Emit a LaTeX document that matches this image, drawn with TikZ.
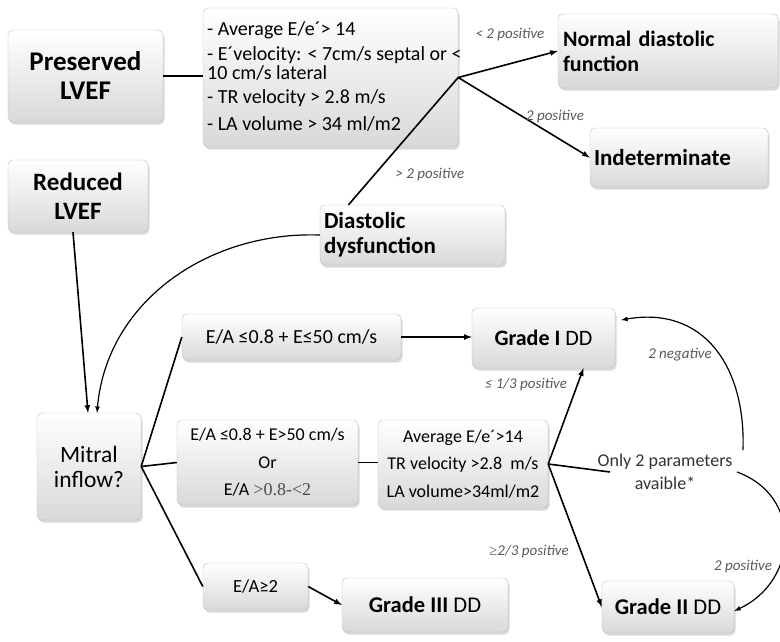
\documentclass[tikz,border=0pt]{standalone}
\usepackage{fontspec}
\setmainfont{Carlito}
\newfontfamily\tnr{Liberation Serif}
\usepackage{tikz}
\usetikzlibrary{arrows}
\usetikzlibrary{shadows}
\tikzset{box/.style={draw=gray!50, rounded corners=5pt, top color=white, bottom color=gray!30, drop shadow={opacity=0.3, shadow xshift=1.5pt, shadow yshift=-2.5pt}, inner sep=3pt}}
\tikzset{t/.style={font=\fontsize{23}{26}\selectfont\bfseries}}
\tikzset{l/.style={font=\fontsize{15}{17}\selectfont\itshape, text=black!65}}
\tikzset{flow/.style={line width=1.6pt}}
\tikzset{arr/.style={flow, -latex}}
\tikzset{curv/.style={line width=1.2pt, -latex}}

\begin{document}
\begin{tikzpicture}[x=1pt,y=-1pt]
  \useasboundingbox (0,0) rectangle (780,641);
  \node[box, t, font=\fontsize{27}{29}\selectfont\bfseries, minimum width=155pt, minimum height=92pt, align=center] (pres) at (85.5,76) {Preserved\\LVEF};
  \node[box, minimum width=255pt, minimum height=139pt] (crit) at (330.5,77.5) {};
  \node[anchor=north west, inner sep=0pt, align=left, font=\fontsize{20}{19}\selectfont] (crittxt) at (207,21)
    {- Average E/e´> 14\\[6pt]- E´velocity: < 7cm/s septal or <\\10 cm/s lateral\\[5pt]- TR velocity > 2.8 m/s\\[8pt]- LA volume > 34 ml/m2};
  \node[box, t, font=\fontsize{22}{25}\selectfont\bfseries, minimum width=220pt, minimum height=74pt, align=left, text width=210pt] (normal) at (668,51) {Normal diastolic\\function};
  \node[box, t, minimum width=178pt, minimum height=59pt, align=left, text width=170pt] (indet) at (679,157.5) {Indeterminate};
  \node[box, t, font=\fontsize{25}{29}\selectfont\bfseries, minimum width=140pt, minimum height=72pt, align=center] (red) at (78,196) {Reduced\\LVEF};
  \node[box, t, font=\fontsize{23}{25}\selectfont\bfseries, minimum width=185pt, minimum height=60pt, align=left, text width=177pt] (dd) at (412.5,235) {Diastolic\\dysfunction};
  \node[box, minimum width=104pt, minimum height=107pt, align=center, font=\fontsize{23.5}{25}\selectfont] (mitral) at (89,466.5) {Mitral\\inflow?};
  \node[box, minimum width=219pt, minimum height=46pt, font=\fontsize{20}{22}\selectfont] (ea1) at (291.5,337) {E/A ≤0.8 + E≤50 cm/s};
  \node[box, minimum width=181pt, minimum height=85pt, align=center, font=\fontsize{18}{27.5}\selectfont] (ea2) at (267.5,462.5)
    {E/A ≤0.8 + E>50 cm/s\\Or\\E/A {\tnr\color{black!70}>0.8-<2}};
  \node[box, minimum width=170pt, minimum height=88pt, align=center, font=\fontsize{18}{27.5}\selectfont] (avg) at (463,464)
    {Average E/e´>14\\TR velocity >2.8\ \ m/s\\LA volume>34ml/m2};
  \node[box, minimum width=143pt, minimum height=60pt, font=\fontsize{22}{24}\selectfont] (g1) at (543.5,338) {\textbf{Grade I} DD};
  \node[box, minimum width=105pt, minimum height=47pt, font=\fontsize{18.5}{20}\selectfont] (ea3) at (255.5,586.5) {E/A≥2};
  \node[box, minimum width=166pt, minimum height=54pt, font=\fontsize{22.5}{24}\selectfont] (g3) at (425,605) {\textbf{Grade III} DD};
  \node[box, minimum width=132pt, minimum height=52pt, font=\fontsize{22.5}{24}\selectfont] (g2) at (668,607) {\textbf{Grade II} DD};
  \node[align=center, font=\fontsize{18}{23}\selectfont, text=black!80] (only) at (665,472) {Only 2 parameters\\avaible*};

  \coordinate (j1) at (crit.east);
  \coordinate (j2) at (mitral.east);
  \coordinate (j3) at (avg.east);

  \draw[flow] (pres.east) -- (pres.east -| crit.west);
  \draw[arr] (j1) -- (normal.west);
  \draw[arr] (j1) -- (indet.west);
  \draw[flow] ([xshift=-64pt]dd.north) -- (j1);
  \draw[curv] (dd.west) to[out=178,in=85] ([xshift=8pt]mitral.north);
  \draw[arr] ([xshift=-5pt]red.south) -- ([xshift=-1pt]mitral.north);
  \draw[flow] (j2) -- (ea1.west);
  \draw[flow] (j2) -- (ea2.west);
  \draw[flow] (j2) -- (ea3.west);
  \draw[arr] (ea1.east) -- (ea1.east -| g1.west);
  \draw[arr] (ea3.east) -- (g3.west);
  \draw[flow] (ea2.east) -- (ea2.east -| avg.west);
  \draw[arr] (j3) -- ([xshift=40pt]g1.south);
  \draw[flow] (j3) -- ([xshift=-55pt]only.center);
  \draw[arr] (j3) -- (g2.west);
  \draw[curv] ([xshift=78pt,yshift=22pt]only.center) to[out=88,in=10,looseness=1.2] ([xshift=6pt,yshift=18pt]g1.east);
  \draw[curv] ([xshift=72pt]only.center) to[out=-20,in=25,looseness=1.3] ([yshift=-4pt]g2.east);

  \node[l] (lt1) at (510,35) {< 2 positive};
  \node[l] (lt2) at (555,117) {2 positive};
  \node[l] (lt3) at (430,175) {> 2 positive};
  \node[l] (lg1) at (526,385) {≤ 1/3 positive};
  \node[l] (lg2) at (529,552) {{\tnr\upshape ≥}2/3 positive};
  \node[l] (lneg) at (680,355) {2 negative};
  \node[l] (lpos) at (743,567) {2 positive};
\end{tikzpicture}
\end{document}
